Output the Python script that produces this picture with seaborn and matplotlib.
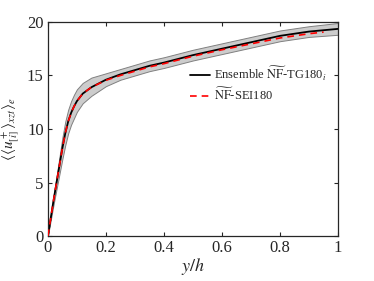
import numpy as np
import pandas as pd
import matplotlib
matplotlib.use("Agg")
import matplotlib.pyplot as plt
import seaborn as sns

# ==============================
# DATA
# ==============================

y_ens = [0, .01, .02, .03, .04, .05, .06, .07, .08, .09, .10, .12, .15, .20,
         .25, .30, .35, .40, .50, .60, .70, .80, .90, 1.0]
u_ens = [0, 1.7, 3.4, 5.0, 6.6, 8.2, 9.6, 10.7, 11.5, 12.1, 12.6, 13.3, 13.9, 14.6,
         15.1, 15.5, 15.9, 16.2, 16.9, 17.5, 18.1, 18.7, 19.1, 19.35]
u_low = [0, 1.5, 3.0, 4.4, 5.8, 7.2, 8.5, 9.6, 10.4, 11.0, 11.6, 12.4, 13.1, 14.0,
         14.6, 15.0, 15.4, 15.7, 16.4, 17.0, 17.6, 18.2, 18.6, 18.8]
u_up = [0, 1.9, 3.8, 5.6, 7.4, 9.2, 10.7, 11.8, 12.6, 13.2, 13.7, 14.3, 14.8, 15.2,
        15.6, 16.0, 16.4, 16.7, 17.4, 18.0, 18.6, 19.2, 19.6, 19.9]

y_sei = [0, .01, .02, .03, .04, .05, .06, .07, .08, .09, .10, .12, .15, .20,
         .25, .30, .35, .40, .50, .60, .70, .80, .90, .95]
u_sei = [0, 1.7, 3.4, 5.0, 6.6, 8.2, 9.6, 10.7, 11.5, 12.1, 12.6, 13.3, 13.9, 14.55,
         15.0, 15.4, 15.8, 16.1, 16.8, 17.4, 17.95, 18.5, 18.9, 19.05]

ens_df = pd.DataFrame({"y": y_ens, "u": u_ens})
sei_df = pd.DataFrame({"y": y_sei, "u": u_sei})

# ==============================
# STYLE
# ==============================

sns.set_style("ticks")
plt.rcParams["font.family"] = ["Liberation Serif", "DejaVu Serif"]
plt.rcParams["mathtext.fontset"] = "stix"

# ==============================
# PLOT
# ==============================

fig = plt.figure(figsize=(3.74, 2.81), dpi=100)
ax = fig.add_axes([0.128, 0.160, 0.776, 0.762])

ax.fill_between(y_ens, u_low, u_up, facecolor="#cccccc", edgecolor="#808080",
                linewidth=0.7, zorder=1)
sns.lineplot(data=ens_df, x="y", y="u", ax=ax, color="black", linewidth=1.3,
             label=r"Ensemble $\widetilde{\rm NF}$-TG180$_i$", zorder=2)
sns.lineplot(data=sei_df, x="y", y="u", ax=ax, color="red", linewidth=1.2,
             linestyle=(0, (4, 3)), label=r"$\widetilde{\rm NF}$-SEI180", zorder=3)

ax.set_xlim(0, 1)
ax.set_ylim(0, 20)
ax.set_xticks([0, 0.2, 0.4, 0.6, 0.8, 1])
ax.set_xticklabels(["0", "0.2", "0.4", "0.6", "0.8", "1"])
ax.set_yticks([0, 5, 10, 15, 20])
ax.tick_params(direction="in", top=True, right=True, labelsize=12,
               length=3, width=0.8, colors="#262626", pad=3)
for sp in ax.spines.values():
    sp.set_linewidth(0.9)
    sp.set_color("#262626")

ax.set_xlabel(r"$y/h$", fontsize=13, labelpad=0)
ax.set_ylabel(r"$\langle\langle u^+_{[i]}\rangle_{xzt}\rangle_e$", fontsize=11,
              labelpad=4)

ax.legend(loc="upper left", bbox_to_anchor=(0.49, 0.80), frameon=False,
          fontsize=9, handlelength=1.6, handletextpad=0.3, borderpad=0,
          borderaxespad=0, labelspacing=0.35)

fig.savefig("out.png", dpi=100)
